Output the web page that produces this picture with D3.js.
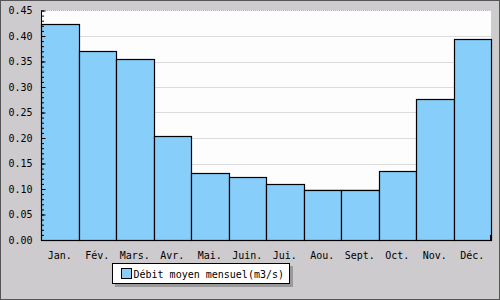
<!DOCTYPE html>
<html><head><meta charset="utf-8">
<script src="https://cdn.jsdelivr.net/npm/d3@7/dist/d3.min.js"></script>
<style>body{margin:0;padding:0;background:#fff}svg{display:block}</style>
</head><body>
<svg id="c" width="500" height="300"></svg>
<script>
const months = ["Jan.","Fév.","Mars.","Avr.","Mai.","Juin.","Jui.","Aou.","Sept.","Oct.","Nov.","Déc."];
const debit = [0.423,0.371,0.354,0.204,0.131,0.123,0.109,0.098,0.098,0.135,0.276,0.395];
const yTicks = [0.00,0.05,0.10,0.15,0.20,0.25,0.30,0.35,0.40,0.45];
const legendLabel = "Débit moyen mensuel(m3/s)";

const svg = d3.select("#c");
const font = "'DejaVu Sans Mono', monospace";
svg.append("rect").attr("x",0.5).attr("y",0.5).attr("width",499).attr("height",299)
  .attr("fill","#cdcbcd").attr("stroke","#555");

const x = d3.scaleBand().domain(months).range([41,491]).padding(0);
const y = d3.scaleLinear().domain([0,0.45]).range([240,10.5]);

svg.append("rect").attr("x",41).attr("y",y(0.45)).attr("width",450).attr("height",240-y(0.45)).attr("fill","#fdfdfd");
svg.append("line").attr("x1",41).attr("x2",491).attr("y1",y(0.45)).attr("y2",y(0.45))
  .attr("stroke","#bbb").attr("stroke-dasharray","1,1");

svg.append("g").selectAll("line").data(yTicks.slice(1,-1)).join("line")
  .attr("x1",41).attr("x2",491).attr("y1",d=>Math.round(y(d))+0.5).attr("y2",d=>Math.round(y(d))+0.5)
  .attr("stroke","#dcdcdc").attr("stroke-width",1);

svg.append("g").selectAll("rect").data(debit).join("rect")
  .attr("x",(d,i)=>Math.round(x(months[i]))+0.5)
  .attr("y",d=>Math.round(y(d))+0.5)
  .attr("width",(d,i)=>Math.round(x(months[i])+x.bandwidth())-Math.round(x(months[i])))
  .attr("height",d=>240-Math.round(y(d)))
  .attr("fill","#87cefa").attr("stroke","#000").attr("stroke-width",1.2);

// minor ticks
const minor = d3.range(0,46).map(i=>i/100);
const gMinor = svg.append("g").attr("transform","translate(41.5,0)")
  .call(d3.axisLeft(y).tickValues(minor).tickSize(-2.5).tickFormat(""));
gMinor.select(".domain").remove();
gMinor.selectAll("line").attr("stroke","#000");

const gy = svg.append("g").attr("transform","translate(41.5,0)")
  .call(d3.axisLeft(y).tickValues(yTicks).tickSize(-4).tickPadding(9).tickFormat(d3.format(".2f")));
gy.select(".domain").attr("stroke","#000").attr("d","M0,"+y(0.45)+"V240");
gy.selectAll("line").attr("stroke","#000");
gy.selectAll("text").attr("font-family",font).attr("font-size",10).attr("fill","#000");

const gx = svg.append("g").attr("transform","translate(0,240.5)")
  .call(d3.axisBottom(x).tickSize(0).tickPadding(11));
gx.select(".domain").attr("stroke","#000").attr("d","M41,0H491");
gx.selectAll("text").attr("font-family",font).attr("font-size",10).attr("fill","#000");
svg.append("line").attr("x1",490.5).attr("x2",490.5).attr("y1",235).attr("y2",240).attr("stroke","#000");

// legend
const lg = svg.append("g");
lg.append("rect").attr("x",115).attr("y",266).attr("width",178).attr("height",21).attr("fill","#999");
lg.append("rect").attr("x",112.5).attr("y",263.5).attr("width",177).attr("height",20).attr("fill","#fff").attr("stroke","#000");
lg.append("rect").attr("x",121.5).attr("y",268.5).attr("width",10).attr("height",10).attr("fill","#87cefa").attr("stroke","#000");
lg.append("text").attr("x",133.5).attr("y",277.5).attr("font-family",font).attr("font-size",10).text(legendLabel);
</script>
</body></html>
